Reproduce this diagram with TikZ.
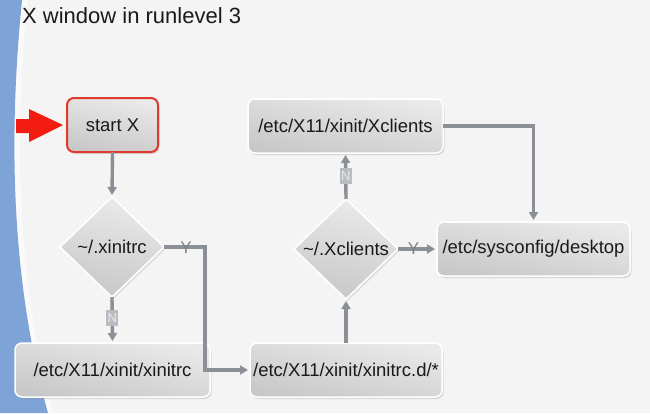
\documentclass[tikz,border=0pt]{standalone}
\usepackage{fontspec}
\setmainfont{Liberation Sans}
\usetikzlibrary{shapes.geometric,arrows.meta,shadows}
\definecolor{bgc}{HTML}{F4F4F4}
\definecolor{bluec}{HTML}{7EA3D6}
\definecolor{redc}{HTML}{F21C10}
\definecolor{redb}{HTML}{E03A2C}
\definecolor{linec}{HTML}{8A9096}
\definecolor{boxtop}{HTML}{EAEAEA}
\definecolor{boxbot}{HTML}{C8C8C8}
\definecolor{txt}{HTML}{1A1A1A}
\tikzset{
  boxn/.style={rectangle, rounded corners=7pt, draw=white, line width=1.5pt,
    top color=boxtop, bottom color=boxbot, shading angle=-12,
    drop shadow={opacity=0.25, shadow xshift=1.5pt, shadow yshift=-2pt},
    minimum height=54pt, inner sep=0pt, outer sep=0pt, text=txt,
    font=\fontsize{18.5}{20}\selectfont},
  startn/.style={boxn, draw=redb, line width=2pt},
  dian/.style={diamond, draw=white, line width=1.5pt,
    top color=boxtop, bottom color=boxbot, shading angle=-12,
    drop shadow={opacity=0.2, shadow xshift=1.5pt, shadow yshift=-2pt},
    minimum width=104pt, minimum height=100pt, inner sep=0pt, outer sep=0pt},
  diatext/.style={text=txt, font=\fontsize{18.5}{20}\selectfont, inner sep=0pt},
  conn/.style={draw=linec, line width=3.4pt, -{Triangle[length=8pt,width=9pt]}, shorten >=2pt},
  ylab/.style={text=linec!90!black, font=\fontsize{17}{17}\selectfont, inner sep=0pt},
  nlab/.style={fill=linec!60, text=linec!20, font=\fontsize{13}{13}\selectfont, inner sep=1.2pt, minimum height=16pt},
}
\begin{document}
\begin{tikzpicture}[x=1pt,y=-1pt]
\useasboundingbox (0,0) rectangle (650,413);
\fill[bgc] (0,0) rectangle (650,413);
% blue band
\fill[bluec] (0,0) -- (22,0) .. controls (10,120) and (8,270) .. (48,413) -- (0,413) -- cycle;
\draw[white, line width=5pt, opacity=0.6] (25,0) .. controls (13,120) and (11,270) .. (51,413);
% title
\node[anchor=base west, inner sep=0pt, text=txt, font=\fontsize{22}{24}\selectfont] (title) at (22,23) {X window in runlevel 3};
% red arrow
\fill[redc] (16,119) -- (29,119) -- (29,109) -- (63,125) -- (29,142) -- (29,133) -- (16,133) -- cycle;
% nodes
\node[startn, minimum width=91pt] (sx) at (112.5,125) {start X};
\node[dian] (d1) at (112,247) {};
\node[diatext] (d1t) at (d1) {\textasciitilde/.xinitrc};
\node[boxn, minimum width=195pt] (xr) at (112.5,370) {/etc/X11/xinit/xinitrc};
\node[boxn, minimum width=192pt] (xd) at (346,370) {/etc/X11/xinit/xinitrc.d/*};
\node[dian] (d2) at (346,249) {};
\node[diatext] (d2t) at (d2) {\textasciitilde/.Xclients};
\node[boxn, minimum width=195pt] (xc) at (345.5,126) {/etc/X11/xinit/Xclients};
\node[boxn, minimum width=193pt] (dt) at (533.5,249) {/etc/sysconfig/desktop};
% connectors
\coordinate (c1) at (205,247);
\draw[conn] (sx.south) -- (d1.north);
\draw[conn] (d1.south) -- (xr.north) node[nlab, pos=0.45] (n1) {N};
\draw[conn] (d1.east) -- (c1) |- (xd.west);
\node[ylab] (y1) at (186,248) {Y};
\draw[conn] (xd.north) -- (d2.south);
\draw[conn] (d2.north) -- (xc.south) node[nlab, pos=0.5] (n2) {N};
\draw[conn] (xc.east) -| (dt.north);
\draw[conn] (d2.east) -- (dt.west) node[ylab, pos=0.4] (y2) {Y};
\end{tikzpicture}
\end{document}
